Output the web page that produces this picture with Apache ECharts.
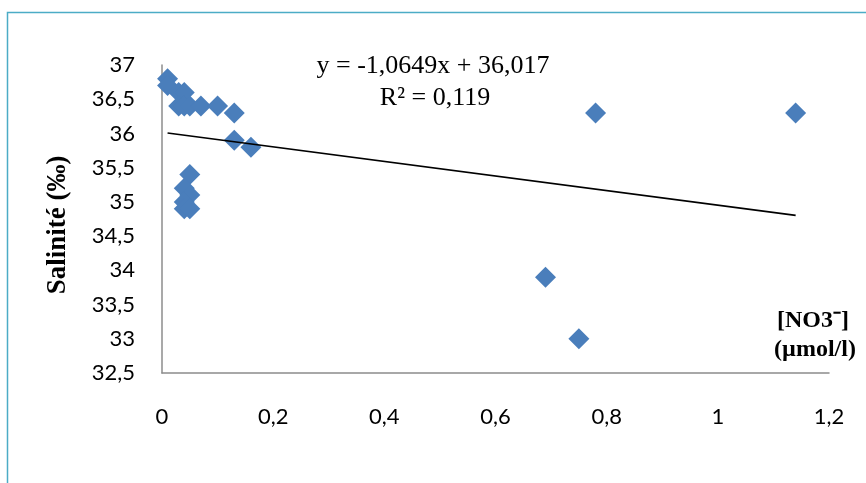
<!DOCTYPE html>
<html>
<head>
<meta charset="utf-8">
<script src="https://cdn.jsdelivr.net/npm/echarts@6/dist/echarts.min.js"></script>
<style>
  html, body { margin: 0; padding: 0; background: #fff; }
  #chart { width: 866px; height: 483px; }
</style>
</head>
<body>
<div id="chart"></div>
<script>
// Nitrate concentration (µmol/l) and salinity (‰) per station
const nitrate  = [0.01, 0.01, 0.03, 0.04, 0.03, 0.04, 0.05, 0.07, 0.10, 0.13, 0.13, 0.16,
                  0.05, 0.04, 0.05, 0.04, 0.04, 0.05, 0.69, 0.75, 0.78, 1.14];
const salinity = [36.8, 36.7, 36.6, 36.6, 36.4, 36.4, 36.4, 36.4, 36.4, 36.3, 35.9, 35.8,
                  35.4, 35.2, 35.1, 35.0, 34.9, 34.9, 33.9, 33.0, 36.3, 36.3];

// Linear trend as printed: y = -1,0649x + 36,017 ; R² = 0,119
const trendSlope = -1.0649;
const trendIntercept = 36.017;
const trendR2 = 0.119;

const xTicks = [0, 0.2, 0.4, 0.6, 0.8, 1, 1.2];
const yTicks = [32.5, 33, 33.5, 34, 34.5, 35, 35.5, 36, 36.5, 37];

const comma = v => String(v).replace('.', ',');

const points = nitrate.map((x, i) => [x, salinity[i]]);
const xLo = Math.min(...nitrate), xHi = Math.max(...nitrate);
const trend = [xLo, xHi].map(x => [x, trendIntercept + trendSlope * x]);

const chart = echarts.init(document.getElementById('chart'));
chart.setOption({
  animation: false,
  backgroundColor: '#fff',
  grid: { left: 162, right: 37, top: 65, bottom: 110 },
  xAxis: {
    type: 'value',
    min: xTicks[0], max: xTicks[xTicks.length - 1], interval: 0.2,
    axisLine: { show: true, lineStyle: { color: '#8c8c8c', width: 1.5 } },
    axisTick: { show: false },
    splitLine: { show: false },
    axisLabel: { margin: 33, fontFamily: 'Lato', fontSize: 22, color: '#000', formatter: comma }
  },
  yAxis: {
    type: 'value',
    min: yTicks[0], max: yTicks[yTicks.length - 1], interval: 0.5,
    axisLine: { show: true, lineStyle: { color: '#8c8c8c', width: 1.5 } },
    axisTick: { show: false },
    splitLine: { show: false },
    axisLabel: { margin: 27, fontFamily: 'Lato', fontSize: 22, color: '#000', formatter: comma }
  },
  series: [
    {
      type: 'line',
      data: trend,
      symbol: 'none',
      lineStyle: { color: '#000', width: 1.7 },
      z: 3
    },
    {
      type: 'scatter',
      data: points,
      symbol: 'diamond',
      symbolSize: [21, 21],
      itemStyle: { color: '#4A7EBB', opacity: 1 },
      z: 2
    }
  ],
  graphic: [
    {
      type: 'rect', silent: true,
      shape: { x: 7.5, y: 12.5, width: 900, height: 500 },
      style: { fill: 'none', stroke: '#4BACC6', lineWidth: 1.5 }
    },
    {
      type: 'text', x: 433, y: 66,
      style: {
        text: 'y = ' + comma(trendSlope) + 'x + ' + comma(trendIntercept),
        font: '26px "Liberation Serif"', fill: '#000',
        textAlign: 'center', textVerticalAlign: 'middle'
      }
    },
    {
      type: 'text', x: 435, y: 98,
      style: {
        text: 'R² = ' + comma(trendR2),
        font: '26px "Liberation Serif"', fill: '#000',
        textAlign: 'center', textVerticalAlign: 'middle'
      }
    },
    {
      type: 'text', x: 58, y: 225, rotation: Math.PI / 2,
      style: {
        text: 'Salinité (‰)',
        font: 'bold 27px "Liberation Serif"', fill: '#000',
        textAlign: 'center', textVerticalAlign: 'middle'
      }
    },
    {
      type: 'text', x: 813, y: 321,
      style: {
        text: '[NO3⁻]',
        font: 'bold 24px "Liberation Serif"', fill: '#000',
        textAlign: 'center', textVerticalAlign: 'middle'
      }
    },
    {
      type: 'text', x: 815, y: 350,
      style: {
        text: '(µmol/l)',
        font: 'bold 24px "Liberation Serif"', fill: '#000',
        textAlign: 'center', textVerticalAlign: 'middle'
      }
    }
  ]
});
</script>
</body>
</html>
